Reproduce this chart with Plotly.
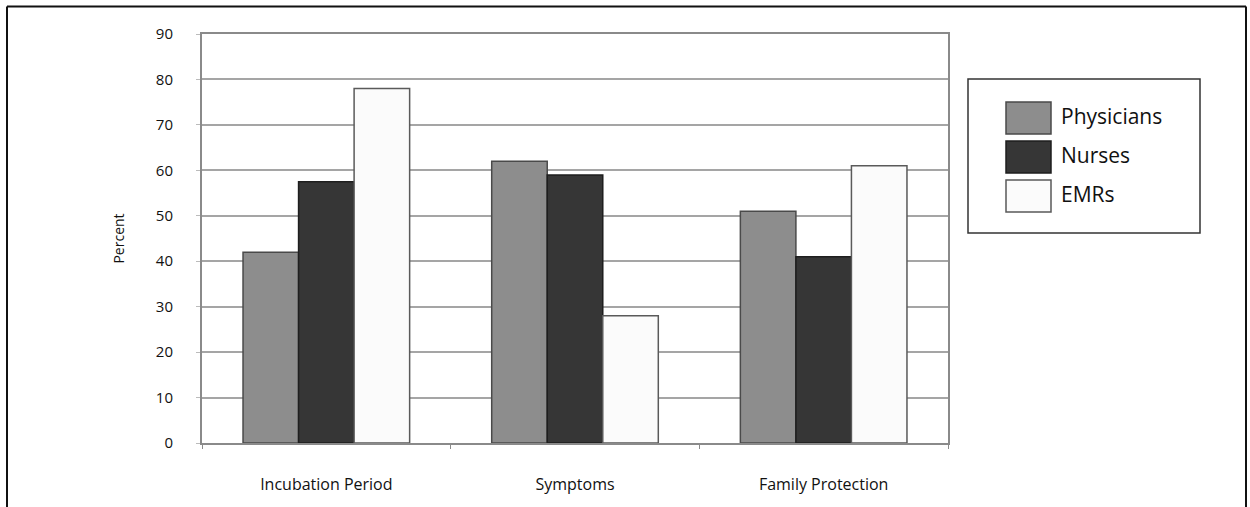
import plotly.graph_objects as go

categories = ["Incubation Period", "Symptoms", "Family Protection"]
series_names = ["Physicians", "Nurses", "EMRs"]
physicians = [42, 62, 51]
nurses = [57.5, 59, 41]
emrs = [78, 28, 61]
y_ticks = [0, 10, 20, 30, 40, 50, 60, 70, 80, 90]

fills = ["#8d8d8d", "#363636", "#fbfbfb"]
outlines = ["#4a4a4a", "#1e1e1e", "#5a5a5a"]
values = [physicians, nurses, emrs]

FONT = "Open Sans"

fig = go.Figure()
for name, vals, fc, lc in zip(series_names, values, fills, outlines):
    fig.add_trace(go.Bar(
        x=categories, y=vals, name=name,
        marker=dict(color=fc, line=dict(color=lc, width=1.5)),
        showlegend=False,
    ))

# body margin is removed below, so figure pixels == page pixels
W, H = 1250, 507
L, R, T, B = 202, 948, 34, 443
pw, ph = R - L, B - T

def px(x):
    return (x - L) / pw

def py(y):
    return (B - y) / ph

shapes = []
# outer frame (left, top, right)
fl, ft, fr, fb = 7, 6.5, 1246, 507
for x0, y0, x1, y1 in [(fl, ft, fl, fb), (fl, ft, fr, ft), (fr, ft, fr, fb)]:
    shapes.append(dict(type="line", xref="paper", yref="paper",
                       x0=px(x0), y0=py(y0), x1=px(x1), y1=py(y1),
                       line=dict(color="#111111", width=2)))
# legend box
shapes.append(dict(type="rect", xref="paper", yref="paper",
                   x0=px(968), y0=py(79), x1=px(1200), y1=py(233),
                   line=dict(color="#333333", width=1.5), fillcolor="rgba(0,0,0,0)"))
annotations = []
sw_tops = [102, 141, 180]
for name, fc, lc, top in zip(series_names, fills, outlines, sw_tops):
    shapes.append(dict(type="rect", xref="paper", yref="paper",
                       x0=px(1006), y0=py(top), x1=px(1051), y1=py(top + 32),
                       line=dict(color=lc, width=1.5), fillcolor=fc))
    annotations.append(dict(xref="paper", yref="paper", x=px(1059), y=py(top + 14),
                            text=name, showarrow=False, xanchor="left", yanchor="middle",
                            font=dict(family=FONT, size=21, color="#111111")))

fig.update_layout(
    width=W, height=H,
    margin=dict(l=L, r=W - R, t=T, b=H - B),
    paper_bgcolor="white", plot_bgcolor="white",
    bargap=0.33, bargroupgap=0,
    barmode="group",
    shapes=shapes, annotations=annotations,
    font=dict(family=FONT, color="#111111"),
)
fig.update_xaxes(
    showline=True, linecolor="#8a8a8a", linewidth=2, mirror=True,
    ticks="outside", ticklen=4, tickcolor="#8a8a8a", tickson="boundaries",
    tickfont=dict(family=FONT, size=16, color="#111111"),
    ticklabelstandoff=26, showgrid=False,
)
fig.update_yaxes(
    range=[0, 90], tickvals=y_ticks,
    showline=True, linecolor="#8a8a8a", linewidth=2, mirror=True,
    showgrid=True, gridcolor="#a5a5a5", gridwidth=1.5,
    ticks="outside", ticklen=4, tickcolor="#bbbbbb",
    tickfont=dict(family=FONT, size=15, color="#111111"),
    ticklabelstandoff=20,
    title=dict(text="Percent", font=dict(family=FONT, size=14, color="#111111"), standoff=28),
)

fig.write_html(
    "out.html",
    config={"displayModeBar": False},
    post_script="document.body.style.margin='0';document.body.style.overflow='hidden';",
)
